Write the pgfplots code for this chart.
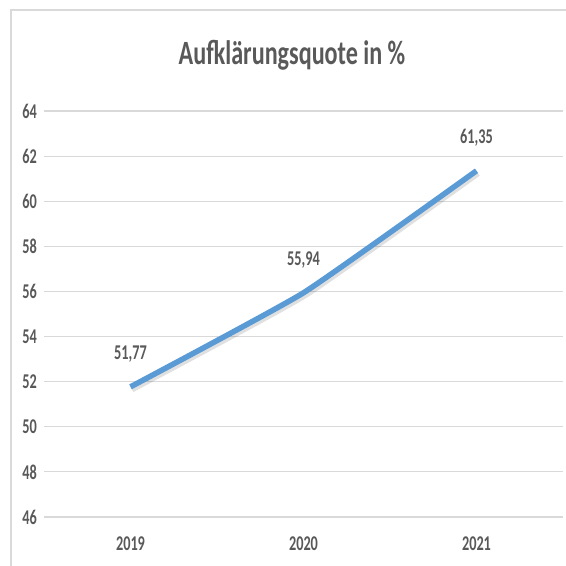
\documentclass[border=0pt]{standalone}
\usepackage{fontspec}
\setmainfont{Carlito}[FakeStretch=0.68]
\newfontfamily\titlefont{Carlito}[FakeStretch=0.71]
\usepackage{pgfplots}
\pgfplotsset{compat=1.18}
\definecolor{txt}{HTML}{595959}
\definecolor{gridc}{HTML}{D9D9D9}
\definecolor{linec}{HTML}{5B9BD5}
\begin{document}
\begin{tikzpicture}
\useasboundingbox (0,0) rectangle (566bp,566bp);
\fill[white] (0,0) rectangle (566bp,566bp);
\draw[gridc, line width=1.2bp] (11bp,0) -- (11bp,556bp) -- (566bp,556bp);
\node[txt, font=\fontsize{34bp}{40bp}\titlefont\bfseries, anchor=base] at (292bp,501bp) {Aufklärungsquote in \%};
\begin{axis}[
  at={(44bp,49bp)}, anchor=south west,
  width=519bp, height=406bp, scale only axis,
  xmin=-0.5, xmax=2.5, ymin=46, ymax=64,
  xtick={0,1,2}, xticklabels={2019,2020,2021},
  ytick={46,48,...,64},
  axis x line*=bottom, axis y line*=left,
  axis line style={draw=none},
  major tick style={draw=none},
  xmajorgrids=false, ymajorgrids=true,
  grid style={draw=gridc, line width=1.2bp},
  tick label style={txt, font=\fontsize{21bp}{24bp}\selectfont\bfseries},
  /pgf/number format/assume math mode=true,
  yticklabel style={anchor=east, xshift=-7bp, inner sep=0pt},
  xticklabel style={anchor=north, yshift=-20bp, inner sep=0pt},
  clip=false,
]
\addplot[black, opacity=0.12, line width=6bp, smooth, tension=0.25, shift={(1.5bp,-2.5bp)}] coordinates {(0,51.77) (1,55.94) (2,61.35)};
\addplot[linec, line width=5.5bp, smooth, tension=0.25,
  nodes near coords,
  point meta=explicit symbolic,
  every node near coord/.append style={txt, font=\fontsize{21bp}{24bp}\selectfont\bfseries, anchor=base, yshift=27bp, inner sep=0pt, opacity=1}
] coordinates {(0,51.77) [51,77] (1,55.94) [55,94] (2,61.35) [61,35]};
\end{axis}
\end{tikzpicture}
\end{document}
